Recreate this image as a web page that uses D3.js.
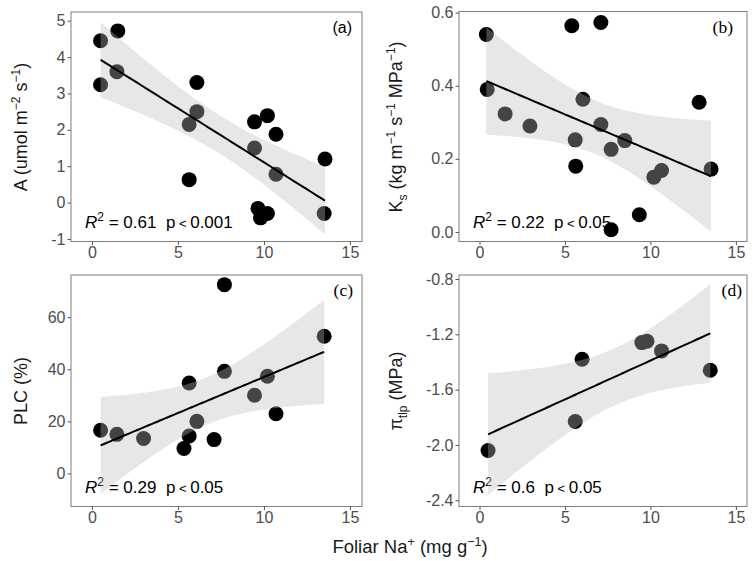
<!DOCTYPE html>
<html><head><meta charset="utf-8">
<script src="https://cdn.jsdelivr.net/npm/d3@7"></script>
<style>body{margin:0;background:#fff}svg{display:block}</style></head>
<body><svg id="c" width="755" height="561"></svg>
<script>
// ---- data ----
const naA = [0.5, 1.5, 1.45, 0.5, 6.1, 6.1, 5.65, 5.65, 9.45, 10.2, 10.7, 9.45, 10.7, 13.55, 13.5, 9.65, 9.8, 10.2];
const photoA = [4.45, 4.72, 3.6, 3.24, 3.3, 2.5, 2.15, 0.63, 2.22, 2.39, 1.88, 1.5, 0.78, 1.2, -0.3, -0.16, -0.42, -0.3];

const naKs = [0.4, 0.45, 1.5, 2.95, 5.4, 7.1, 6.05, 5.6, 5.63, 7.1, 7.7, 8.5, 7.7, 9.35, 10.2, 10.65, 12.85, 13.55];
const ks = [0.54, 0.39, 0.323, 0.29, 0.564, 0.573, 0.363, 0.252, 0.18, 0.294, 0.226, 0.25, 0.006, 0.047, 0.15, 0.168, 0.355, 0.172];

const naPLC = [0.5, 1.45, 3.0, 7.7, 5.65, 7.7, 5.65, 5.35, 6.1, 7.1, 9.45, 10.2, 10.7, 13.5];
const plc = [16.6, 15.0, 13.4, 72.5, 34.7, 39.2, 14.4, 9.6, 20.0, 13.0, 30.0, 37.3, 22.9, 52.7];

const naTlp = [0.5, 5.6, 6.0, 9.5, 9.8, 10.65, 13.5];
const tlp = [-2.04, -1.83, -1.38, -1.26, -1.25, -1.32, -1.46];

const xTicks = [0, 5, 10, 15];
const yTicksA = [-1, 0, 1, 2, 3, 4, 5];
const yTicksKs = [0.0, 0.2, 0.4, 0.6];
const yTicksPLC = [0, 20, 40, 60];
const yTicksTlp = [-2.4, -2.0, -1.6, -1.2, -0.8];

const panelTags = ["(a)", "(b)", "(c)", "(d)"];
const r2Labels = ["0.61", "0.22", "0.29", "0.6"];
const pLabels = ["0.001", "0.05", "0.05", "0.05"];

// ---- stats helpers ----
function lgamma(z){
  const g=7, c=[0.99999999999980993,676.5203681218851,-1259.1392167224028,771.32342877765313,-176.61502916214059,12.507343278686905,-0.13857109526572012,9.9843695780195716e-6,1.5056327351493116e-7];
  if(z<0.5) return Math.log(Math.PI/Math.sin(Math.PI*z))-lgamma(1-z);
  z-=1; let x=c[0]; for(let i=1;i<g+2;i++) x+=c[i]/(z+i);
  const t=z+g+0.5; return 0.5*Math.log(2*Math.PI)+(z+0.5)*Math.log(t)-t+Math.log(x);
}
function tcdfHalf(t,nu){
  const k=Math.exp(lgamma((nu+1)/2)-lgamma(nu/2))/Math.sqrt(nu*Math.PI);
  const f=u=>k*Math.pow(1+u*u/nu,-(nu+1)/2);
  const N=400,h=t/N; let s=f(0)+f(t);
  for(let i=1;i<N;i++) s+=(i%2?4:2)*f(i*h);
  return s*h/3;
}
function tq975(nu){ let lo=0,hi=20; for(let i=0;i<60;i++){const m=(lo+hi)/2; if(tcdfHalf(m,nu)<0.475) lo=m; else hi=m;} return (lo+hi)/2; }
function fit(xs,ys){
  const n=xs.length, mx=d3.mean(xs), my=d3.mean(ys);
  let sxx=0,sxy=0; for(let i=0;i<n;i++){sxx+=(xs[i]-mx)**2; sxy+=(xs[i]-mx)*(ys[i]-my);}
  const b=sxy/sxx, a=my-b*mx;
  let sse=0; for(let i=0;i<n;i++) sse+=(ys[i]-a-b*xs[i])**2;
  const s=Math.sqrt(sse/(n-2)), t=tq975(n-2);
  const x0=d3.min(xs), x1=d3.max(xs);
  return d3.range(80).map(i=>{const x=x0+(x1-x0)*i/79; const yh=a+b*x; const se=s*Math.sqrt(1/n+(x-mx)**2/sxx); return {x,y:yh,lo:yh-t*se,hi:yh+t*se};});
}

// ---- layout ----
const svg=d3.select("#c");
const panels=[
  {xs:naA, ys:photoA, yt:yTicksA, fmt:d3.format("d"), l:71, r:362, t:12, b:241.5, xd:[-1.22,15.7], yd:[-1.07,5.24], tagX:352, tagY:33},
  {xs:naKs, ys:ks, yt:yTicksKs, fmt:d3.format(".1f"), l:459, r:747, t:11.5, b:241.5, xd:[-1.2,15.65], yd:[-0.026,0.603], tagX:733, tagY:33},
  {xs:naPLC, ys:plc, yt:yTicksPLC, fmt:d3.format("d"), l:71, r:362, t:275, b:506.5, xd:[-1.22,15.7], yd:[-12.7,76.2], tagX:353, tagY:296},
  {xs:naTlp, ys:tlp, yt:yTicksTlp, fmt:d3.format(".1f"), l:459, r:747, t:275, b:506.5, xd:[-1.2,15.65], yd:[-2.445,-0.771], tagX:742, tagY:296}
];
const sans="Liberation Sans, Arial, sans-serif";
const serif="Liberation Serif, Times New Roman, serif";

panels.forEach((p,k)=>{
  const x=d3.scaleLinear().domain(p.xd).range([p.l,p.r]);
  const y=d3.scaleLinear().domain(p.yd).range([p.b,p.t]);
  const g=svg.append("g");
  // annotation first (points drawn over it)
  const tx=g.append("text").attr("x",p.l+14).attr("y",p.b-14).style("font-family",sans).style("font-size","17px").attr("fill","#000");
  tx.append("tspan").text("R").style("font-style","italic");
  tx.append("tspan").text("2").attr("dy",-7).style("font-size","12px");
  tx.append("tspan").text(" = "+r2Labels[k]+"\u00a0\u00a0p").attr("dy",7);
  tx.append("tspan").text(" < ").style("font-size","13px");
  tx.append("tspan").text(pLabels[k]);
  g.append("text").attr("x",p.tagX).attr("y",p.tagY).attr("text-anchor","end")
    .style("font-family",k===0?sans:serif).style("font-size",k===0?"16px":"17.5px").attr("fill","#000").text(panelTags[k]);

  const clipId="clip"+k;
  g.append("clipPath").attr("id",clipId).append("rect").attr("x",p.l).attr("y",p.t).attr("width",p.r-p.l).attr("height",p.b-p.t);
  const inner=g.append("g").attr("clip-path",`url(#${clipId})`);
  inner.selectAll("circle").data(p.xs.map((v,i)=>[v,p.ys[i]])).join("circle")
    .attr("cx",d=>x(d[0])).attr("cy",d=>y(d[1])).attr("r",7.5).attr("fill","#000");
  const f=fit(p.xs,p.ys);
  inner.append("path").datum(f).attr("d",d3.area().x(d=>x(d.x)).y0(d=>y(d.lo)).y1(d=>y(d.hi)))
    .attr("fill","#bdbdbd").attr("fill-opacity",0.36);
  inner.append("path").datum(f).attr("d",d3.line().x(d=>x(d.x)).y(d=>y(d.y)))
    .attr("fill","none").attr("stroke","#000").attr("stroke-width",2);
  g.append("rect").attr("x",p.l).attr("y",p.t).attr("width",p.r-p.l).attr("height",p.b-p.t)
    .attr("fill","none").attr("stroke","#7f7f7f").attr("stroke-width",1);
  const ax=g.append("g").attr("transform",`translate(0,${p.b})`)
    .call(d3.axisBottom(x).tickValues(xTicks).tickSize(3.5).tickPadding(2).tickFormat(d3.format("d")));
  const ay=g.append("g").attr("transform",`translate(${p.l},0)`)
    .call(d3.axisLeft(y).tickValues(p.yt).tickSize(3.5).tickPadding(2).tickFormat(d=>p.fmt(d).replace("−","-")));
  [ax,ay].forEach(a=>{a.select(".domain").remove();
    a.selectAll("line").attr("stroke","#555");
    a.selectAll("text").attr("fill","#4d4d4d").style("font-family",sans).style("font-size","16px");});
});

function ytitle(cx,cy,build){
  const t=svg.append("text").attr("transform",`translate(${cx},${cy}) rotate(-90)`).attr("text-anchor","middle")
    .style("font-family",sans).style("font-size","18px").attr("fill","#1a1a1a");
  build(t);
}
const sup=(t,s)=>{t.append("tspan").text(s).attr("dy",-7).style("font-size","12px");};
const sub=(t,s)=>{t.append("tspan").text(s).attr("dy",5).style("font-size","12px");};
ytitle(27,127,t=>{t.append("tspan").text("A (umol m");sup(t,"−2");t.append("tspan").text(" s").attr("dy",7);sup(t,"−1");t.append("tspan").text(")").attr("dy",7);});
ytitle(402,127,t=>{t.append("tspan").text("K");sub(t,"s");t.append("tspan").text(" (kg m").attr("dy",-5);sup(t,"−1");t.append("tspan").text(" s").attr("dy",7);sup(t,"−1");t.append("tspan").text(" MPa").attr("dy",7);sup(t,"−1");t.append("tspan").text(")").attr("dy",7);});
ytitle(27,391,t=>{t.append("tspan").text("PLC (%)");});
ytitle(402,391,t=>{t.append("tspan").text("π");sub(t,"tlp");t.append("tspan").text(" (MPa)").attr("dy",-5);});

const xt=svg.append("text").attr("x",410).attr("y",553).attr("text-anchor","middle")
  .style("font-family",sans).style("font-size","18.5px").attr("fill","#1a1a1a");
xt.append("tspan").text("Foliar Na");
xt.append("tspan").text("+").attr("dy",-7).style("font-size","12.5px");
xt.append("tspan").text(" (mg g").attr("dy",7);
xt.append("tspan").text("−1").attr("dy",-7).style("font-size","12.5px");
xt.append("tspan").text(")").attr("dy",7);
</script></body></html>
